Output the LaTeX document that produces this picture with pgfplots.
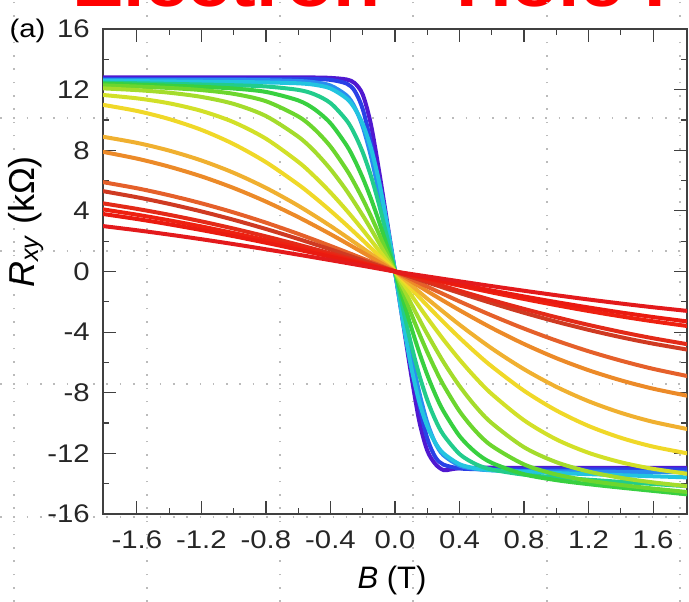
\documentclass[border=0pt]{standalone}
\usepackage{fontspec}
\setmainfont{Liberation Sans}[FakeStretch=1.15]
\newfontfamily\plainsans{Liberation Sans}
\usepackage{pgfplots}
\pgfplotsset{compat=1.18}

\definecolor{c1}{HTML}{E31A1C}
\definecolor{c2}{HTML}{EA1A10}
\definecolor{c3}{HTML}{EE2010}
\definecolor{c4}{HTML}{E32A18}
\definecolor{c5}{HTML}{CF3A22}
\definecolor{c6}{HTML}{E5602A}
\definecolor{c7}{HTML}{EC8A28}
\definecolor{c8}{HTML}{F0B030}
\definecolor{c9}{HTML}{F0D828}
\definecolor{c10}{HTML}{D2E028}
\definecolor{c11}{HTML}{A4DC2C}
\definecolor{c12}{HTML}{6CD62E}
\definecolor{c13}{HTML}{38D040}
\definecolor{c14}{HTML}{22CC8C}
\definecolor{c15}{HTML}{22C4E0}
\definecolor{c16}{HTML}{2A8CF0}
\definecolor{c17}{HTML}{2A40E6}
\definecolor{c18}{HTML}{5018D0}
\definecolor{dotgrid}{HTML}{BBBBBB}
\definecolor{frame}{HTML}{404040}

\begin{document}
\begin{tikzpicture}
\useasboundingbox (0,0) rectangle (689pt,602pt);

% slide title above the panel
\node[anchor=base west, inner sep=0pt, text=red,
      font=\fontsize{67}{70}\selectfont\bfseries] at (72pt,595pt) {Electron-};
\node[anchor=base west, inner sep=0pt, text=red,
      font=\fontsize{67}{70}\selectfont\bfseries] at (456pt,595pt) {Hole Puddles};

% dotted background grid of the page
\foreach \gx in {14,147,280,413,547,680}
  \draw[dotgrid, line width=1.6pt, dash pattern=on 1.6pt off 11.7pt] (\gx pt,0) -- (\gx pt,602pt);
\foreach \gy in {85,218,351,484}
  \draw[dotgrid, line width=1.6pt, dash pattern=on 1.6pt off 11.7pt] (0,\gy pt) -- (689pt,\gy pt);

\begin{axis}[
  at={(103pt,88pt)}, anchor=south west,
  scale only axis, width=584pt, height=485pt,
  xmin=-1.81, xmax=1.81, ymin=-16, ymax=16,
  xtick={-1.6,-1.2,-0.8,-0.4,0,0.4,0.8,1.2,1.6},
  xticklabels={-1.6,-1.2,-0.8,-0.4,0.0,0.4,0.8,1.2,1.6},
  ytick={-16,-12,-8,-4,0,4,8,12,16},
  yticklabels={-16,-12,-8,-4,0,4,8,12,16},
  minor x tick num=1, minor y tick num=1,
  tick align=inside, major tick length=13pt, minor tick length=6pt,
  axis line style={draw=frame, line width=1.3pt},
  tick style={draw=frame, line width=1.2pt},
  ticklabel style={font=\fontsize{25.5}{30}\selectfont, text=black!85},
  xticklabel style={inner sep=0pt, yshift=-16pt},
  yticklabel style={inner sep=0pt, xshift=-13pt},
  every axis plot/.append style={line width=4pt, smooth, line join=round, line cap=round},
]
% violet to red: steepest to flattest Hall traces
\addplot[c18] coordinates {(-1.85,12.8) (-1.2,12.8) (-0.8,12.8) (-0.5,12.8) (-0.4,12.774) (-0.3,12.668) (-0.25,12.431) (-0.2,11.676) (-0.15,9.741) (-0.1,6.714) (-0.05,3.366) (0,0) (0.05,-3.406) (0.1,-6.792) (0.15,-9.855) (0.2,-11.813) (0.25,-12.700) (0.3,-13.100) (0.35,-13.050) (0.4,-12.980) (0.5,-12.950) (0.8,-12.95) (1.2,-12.95) (1.85,-12.95)};
\addplot[c17] coordinates {(-1.85,12.70) (-1.2,12.70) (-0.8,12.70) (-0.6,12.70) (-0.5,12.691) (-0.4,12.643) (-0.3,12.400) (-0.25,11.918) (-0.2,10.715) (-0.15,8.524) (-0.1,5.763) (-0.05,2.883) (0,0) (0.05,-2.962) (0.1,-5.922) (0.15,-8.759) (0.2,-11.010) (0.25,-12.246) (0.3,-12.742) (0.4,-12.991) (0.5,-13.041) (0.6,-13.05) (0.8,-13.05) (1.2,-13.05) (1.85,-13.05)};
\addplot[c16] coordinates {(-1.85,12.65) (-1.2,12.65) (-1.0,12.639) (-0.8,12.623) (-0.6,12.570) (-0.5,12.487) (-0.4,12.271) (-0.3,11.613) (-0.25,10.847) (-0.2,9.553) (-0.15,7.630) (-0.1,5.232) (-0.05,2.634) (0,0) (0.05,-2.748) (0.1,-5.460) (0.15,-7.962) (0.2,-9.969) (0.25,-11.319) (0.3,-12.118) (0.4,-12.804) (0.5,-13.030) (0.6,-13.117) (0.8,-13.172) (1.0,-13.188) (1.2,-13.200) (1.85,-13.250)};
\addplot[c15] coordinates {(-1.85,12.585) (-1.6,12.560) (-1.4,12.540) (-1.2,12.520) (-1.0,12.500) (-0.8,12.475) (-0.6,12.415) (-0.5,12.322) (-0.4,12.079) (-0.3,11.417) (-0.25,10.761) (-0.2,9.727) (-0.15,8.174) (-0.1,5.995) (-0.05,3.196) (0,0) (0.05,-3.350) (0.1,-6.286) (0.15,-8.574) (0.2,-10.207) (0.25,-11.300) (0.3,-11.997) (0.4,-12.713) (0.5,-12.992) (0.6,-13.113) (0.8,-13.225) (1.0,-13.300) (1.2,-13.370) (1.4,-13.440) (1.6,-13.510) (1.85,-13.598)};
\addplot[c14] coordinates {(-1.85,12.470) (-1.6,12.420) (-1.4,12.380) (-1.2,12.338) (-1.0,12.289) (-0.8,12.209) (-0.6,11.982) (-0.5,11.692) (-0.4,11.113) (-0.3,9.967) (-0.25,9.063) (-0.2,7.863) (-0.15,6.328) (-0.1,4.458) (-0.05,2.309) (0,0) (0.05,-2.486) (0.1,-4.802) (0.15,-6.819) (0.2,-8.480) (0.25,-9.784) (0.3,-10.773) (0.4,-12.042) (0.5,-12.708) (0.6,-13.066) (0.8,-13.406) (1.0,-13.588) (1.2,-13.737) (1.4,-13.880) (1.6,-14.020) (1.85,-14.195)};
\addplot[c13] coordinates {(-1.85,12.405) (-1.6,12.328) (-1.4,12.262) (-1.2,12.185) (-1.0,12.072) (-0.8,11.848) (-0.6,11.287) (-0.5,10.713) (-0.4,9.781) (-0.3,8.321) (-0.25,7.344) (-0.2,6.179) (-0.15,4.834) (-0.1,3.327) (-0.05,1.697) (0,0) (0.05,-1.869) (0.1,-3.666) (0.15,-5.330) (0.2,-6.820) (0.25,-8.114) (0.3,-9.206) (0.4,-10.856) (0.5,-11.935) (0.6,-12.627) (0.8,-13.379) (1.0,-13.766) (1.2,-14.033) (1.4,-14.261) (1.6,-14.477) (1.85,-14.743)};
\addplot[c12] coordinates {(-1.85,12.296) (-1.6,12.204) (-1.4,12.109) (-1.2,11.969) (-1.0,11.721) (-0.8,11.234) (-0.6,10.233) (-0.5,9.398) (-0.4,8.247) (-0.3,6.713) (-0.25,5.795) (-0.2,4.779) (-0.15,3.673) (-0.1,2.493) (-0.05,1.261) (0,0) (0.05,-1.402) (0.1,-2.772) (0.15,-4.087) (0.2,-5.320) (0.25,-6.457) (0.3,-7.488) (0.4,-9.218) (0.5,-10.536) (0.6,-11.509) (0.8,-12.730) (1.0,-13.394) (1.2,-13.797) (1.4,-14.084) (1.6,-14.322) (1.85,-14.590)};
\addplot[c11] coordinates {(-1.85,12.103) (-1.6,11.967) (-1.4,11.797) (-1.2,11.520) (-1.0,11.057) (-0.8,10.256) (-0.6,8.898) (-0.5,7.942) (-0.4,6.751) (-0.3,5.333) (-0.2,3.699) (-0.15,2.814) (-0.1,1.896) (-0.05,0.954) (0,0) (0.05,-1.065) (0.1,-2.116) (0.15,-3.141) (0.2,-4.131) (0.3,-5.962) (0.4,-7.560) (0.5,-8.910) (0.6,-10.006) (0.8,-11.596) (1.0,-12.581) (1.2,-13.199) (1.4,-13.616) (1.6,-13.915) (1.85,-14.208)};
\addplot[c10] coordinates {(-1.85,11.686) (-1.6,11.425) (-1.4,11.097) (-1.2,10.596) (-1.0,9.850) (-0.8,8.761) (-0.6,7.237) (-0.5,6.286) (-0.4,5.214) (-0.3,4.030) (-0.2,2.747) (-0.1,1.392) (-0.05,0.699) (0,0) (0.05,-0.778) (0.1,-1.549) (0.2,-3.058) (0.3,-4.489) (0.4,-5.813) (0.5,-7.015) (0.6,-8.085) (0.8,-9.817) (1.0,-11.077) (1.2,-11.964) (1.4,-12.586) (1.6,-13.020) (1.85,-13.401)};
\addplot[c9] coordinates {(-1.85,11.067) (-1.6,10.593) (-1.4,10.058) (-1.2,9.344) (-1.0,8.405) (-0.8,7.213) (-0.6,5.744) (-0.5,4.908) (-0.4,4.009) (-0.3,3.059) (-0.2,2.065) (-0.1,1.041) (0,0) (0.1,-1.135) (0.2,-2.252) (0.3,-3.337) (0.4,-4.374) (0.5,-5.354) (0.6,-6.265) (0.8,-7.868) (1.0,-9.169) (1.2,-10.193) (1.4,-10.973) (1.6,-11.556) (1.85,-12.073)};
\addplot[c8] coordinates {(-1.85,8.962) (-1.6,8.488) (-1.4,7.977) (-1.2,7.325) (-1.0,6.510) (-0.8,5.516) (-0.6,4.343) (-0.4,3.004) (-0.2,1.537) (0,0) (0.2,-1.796) (0.4,-3.511) (0.6,-5.076) (0.8,-6.448) (1.0,-7.609) (1.2,-8.561) (1.4,-9.324) (1.6,-9.921) (1.85,-10.475)};
\addplot[c7] coordinates {(-1.85,7.974) (-1.6,7.449) (-1.4,6.916) (-1.2,6.275) (-1.0,5.507) (-0.8,4.610) (-0.6,3.590) (-0.4,2.463) (-0.2,1.252) (0,0) (0.2,-1.300) (0.4,-2.556) (0.6,-3.727) (0.8,-4.785) (1.0,-5.717) (1.2,-6.514) (1.4,-7.180) (1.6,-7.733) (1.85,-8.278)};
\addplot[c6] coordinates {(-1.85,5.968) (-1.6,5.492) (-1.4,5.029) (-1.2,4.499) (-1.0,3.896) (-0.8,3.222) (-0.6,2.482) (-0.4,1.688) (-0.2,0.855) (0,0) (0.2,-1.000) (0.4,-1.974) (0.6,-2.903) (0.8,-3.768) (1.0,-4.557) (1.2,-5.263) (1.4,-5.882) (1.6,-6.424) (1.85,-6.980)};
\addplot[c5] coordinates {(-1.85,5.375) (-1.6,4.900) (-1.4,4.460) (-1.2,3.963) (-1.0,3.410) (-0.8,2.804) (-0.6,2.150) (-0.4,1.457) (-0.2,0.736) (0,0) (0.2,-0.715) (0.4,-1.415) (0.6,-2.089) (0.8,-2.724) (1.0,-3.313) (1.2,-3.850) (1.4,-4.334) (1.6,-4.761) (1.85,-5.222)};
\addplot[c4] coordinates {(-1.85,4.565) (-1.6,4.132) (-1.4,3.741) (-1.2,3.306) (-1.0,2.830) (-0.8,2.317) (-0.6,1.770) (-0.4,1.196) (-0.2,0.603) (0,0) (0.2,-0.643) (0.4,-1.275) (0.6,-1.887) (0.8,-2.470) (1.0,-3.017) (1.2,-3.525) (1.4,-3.989) (1.6,-4.406) (1.85,-4.867)};
\addplot[c3] coordinates {(-1.85,4.165) (-1.6,3.747) (-1.4,3.376) (-1.2,2.971) (-1.0,2.534) (-0.8,2.067) (-0.6,1.575) (-0.4,1.062) (-0.2,0.534) (0,0) (0.2,-0.469) (0.4,-0.931) (0.6,-1.381) (0.8,-1.813) (1.0,-2.223) (1.2,-2.606) (1.4,-2.961) (1.6,-3.287) (1.85,-3.653)};
\addplot[c2] coordinates {(-1.85,3.856) (-1.6,3.463) (-1.4,3.114) (-1.2,2.735) (-1.0,2.329) (-0.8,1.897) (-0.6,1.444) (-0.4,0.972) (-0.2,0.489) (0,0) (0.2,-0.425) (0.4,-0.844) (0.6,-1.253) (0.8,-1.647) (1.0,-2.021) (1.2,-2.374) (1.4,-2.703) (1.6,-3.005) (1.85,-3.347)};
\addplot[c1] coordinates {(-1.85,3.049) (-1.6,2.721) (-1.4,2.435) (-1.2,2.130) (-1.0,1.806) (-0.8,1.466) (-0.6,1.112) (-0.4,0.748) (-0.2,0.376) (0,0) (0.2,-0.326) (0.4,-0.648) (0.6,-0.965) (0.8,-1.271) (1.0,-1.566) (1.2,-1.847) (1.4,-2.112) (1.6,-2.360) (1.85,-2.644)};
\end{axis}

% panel tag and axis titles
\node[font=\fontsize{25.5}{30}\selectfont, inner sep=0pt] at (27.5pt,571pt) {(a)};
\node[font=\plainsans\fontsize{31}{34}\selectfont, inner sep=0pt] at (392pt,22pt) {\textit{B} (T)};
\node[font=\plainsans\fontsize{36}{40}\selectfont, inner sep=0pt, rotate=90] at (26pt,380pt) {\textit{R}\textsubscript{\textit{xy}} (kΩ)};
\end{tikzpicture}
\end{document}
